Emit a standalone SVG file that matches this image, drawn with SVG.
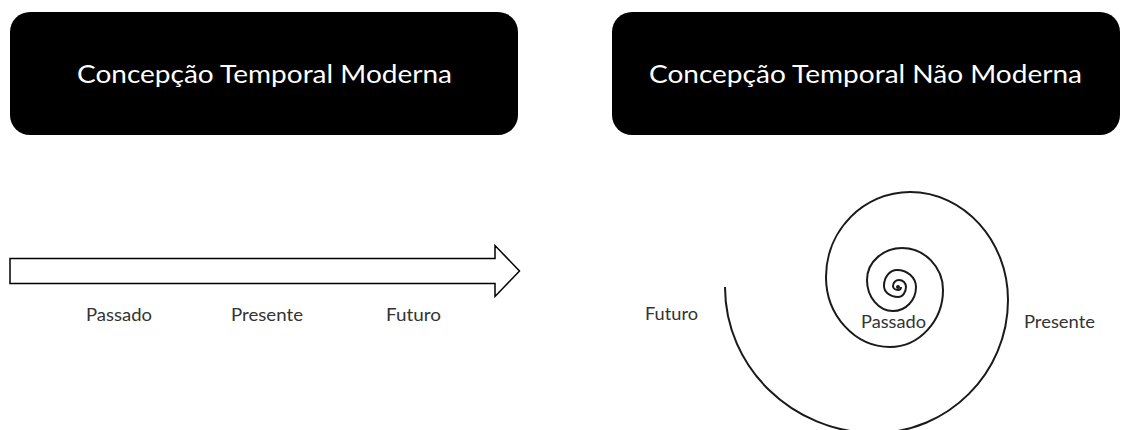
<svg xmlns="http://www.w3.org/2000/svg" width="1121" height="430" viewBox="0 0 1121 430">
  <style>
    .title-box { fill: #000; }
    .title { font-family: Lato, "Open Sans", "Liberation Sans", sans-serif; font-size: 25px; fill: #fff; }
    .label { font-family: Lato, "Open Sans", "Liberation Sans", sans-serif; font-size: 18px; fill: #333; }
    .outline { fill: #fff; stroke: #000; stroke-width: 1.5; stroke-linejoin: miter; }
    .spiral { fill: none; stroke: #1a1a1a; stroke-width: 2; stroke-linecap: butt; }
  </style>
  <rect width="1121" height="430" fill="#fff"/>

  <!-- header: linear (modern) conception -->
  <g id="title-modern">
    <rect class="title-box" x="10" y="12" width="508" height="123" rx="20" ry="20"/>
    <text class="title" x="77" y="83" textLength="375" lengthAdjust="spacingAndGlyphs">Concepção Temporal Moderna</text>
  </g>

  <!-- header: spiral (non-modern) conception -->
  <g id="title-non-modern">
    <rect class="title-box" x="612" y="12" width="508" height="123" rx="20" ry="20"/>
    <text class="title" x="649" y="83" textLength="433" lengthAdjust="spacingAndGlyphs">Concepção Temporal Não Moderna</text>
  </g>

  <!-- block arrow of linear time -->
  <g id="timeline-arrow">
    <polygon class="outline" points="10,258.5 495,258.5 495,245.5 519.5,271 495,296.5 495,283.5 10,283.5"/>
  </g>

  <g id="timeline-labels">
    <text class="label" x="86" y="321" textLength="66" lengthAdjust="spacingAndGlyphs">Passado</text>
    <text class="label" x="231" y="321" textLength="72" lengthAdjust="spacingAndGlyphs">Presente</text>
    <text class="label" x="386" y="321" textLength="55" lengthAdjust="spacingAndGlyphs">Futuro</text>
  </g>

  <!-- spiral of non-linear time, traced from the open outer end inward -->
  <g id="time-spiral">
    <path class="spiral" d="M725,287
      C725,367 792.5,433 875,433
      C948,433 1008,373 1008,300
      C1008,241 964,192 910,192
      C864,192 826,230 826,277
      C826,315.5 855,347 890,347
      C919,347 943,321 943,290
      C943,267 924.5,248 902,248
      C884.4,248 867,261 867,280
      C867,297 878.7,311 893,311
      C905.7,311 916,300.2 916,287
      C916,277.6 907.5,270 897,270
      C889.8,270 884,277.2 884,286
      C884,292 890.3,297 898,297
      C902.4,297 906,292.5 906,287
      C906,283 903,280 899,280
      C895.7,280 893,282.7 893,286
      C893,288.2 895.3,290 898,290
      C899.7,290 901,288.7 901,287"/>
    <circle cx="898" cy="287" r="2" fill="#1a1a1a"/>
  </g>

  <g id="spiral-labels">
    <text class="label" x="645" y="319.5" textLength="53" lengthAdjust="spacingAndGlyphs">Futuro</text>
    <text class="label" x="861" y="328" textLength="65" lengthAdjust="spacingAndGlyphs">Passado</text>
    <text class="label" x="1024" y="328" textLength="71" lengthAdjust="spacingAndGlyphs">Presente</text>
  </g>
</svg>
